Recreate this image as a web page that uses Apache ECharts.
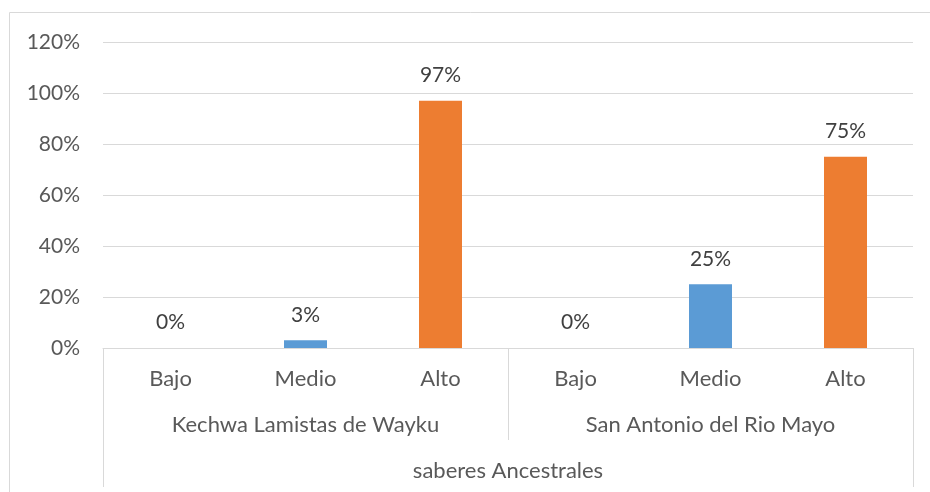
<!DOCTYPE html>
<html>
<head>
<meta charset="utf-8">
<script src="https://cdn.jsdelivr.net/npm/echarts@6/dist/echarts.min.js"></script>
<style>html,body{margin:0;padding:0;background:#fff}#c{width:930px;height:492px}</style>
</head>
<body>
<div id="c"></div>
<script>
const levels = ["Bajo", "Medio", "Alto", "Bajo", "Medio", "Alto"];
const groups = ["Kechwa Lamistas de Wayku", "San Antonio del Rio Mayo"];
const axisTitle = ["saberes Ancestrales"];
const values = [0, 3, 97, 0, 25, 75];
const yTicks = [0, 20, 40, 60, 80, 100, 120];

const levelColors = {Bajo: "#5B9BD5", Medio: "#5B9BD5", Alto: "#ED7D31"};
const FONT = "Lato, 'Open Sans', sans-serif";
const grey = "#d9d9d9";
const txt = "#595959";

const chart = echarts.init(document.getElementById('c'));
chart.setOption({
  animation: false,
  grid: {left: 103, right: 17, top: 42, bottom: 144},
  graphic: [{
    type: 'rect', shape: {x: 9.5, y: 12.5, width: 940, height: 500},
    style: {fill: 'none', stroke: grey, lineWidth: 1}, silent: true
  }],
  xAxis: [
    {
      type: 'category', data: levels, position: 'bottom',
      axisLine: {show: true, lineStyle: {color: grey}},
      axisTick: {show: false},
      axisLabel: {color: txt, fontSize: 22, fontFamily: FONT, margin: 20, interval: 0}
    },
    {
      type: 'category', data: groups, position: 'bottom',
      axisLine: {show: false},
      axisTick: {show: true, length: 92, lineStyle: {color: grey}},
      axisLabel: {color: txt, fontSize: 22, fontFamily: FONT, margin: 66, interval: 0}
    },
    {
      type: 'category', data: axisTitle, position: 'bottom',
      axisLine: {show: false},
      axisTick: {show: true, length: 139, lineStyle: {color: grey}},
      axisLabel: {color: txt, fontSize: 22, fontFamily: FONT, margin: 112, interval: 0}
    }
  ],
  yAxis: {
    type: 'value', min: yTicks[0], max: yTicks[yTicks.length - 1], interval: yTicks[1] - yTicks[0],
    axisLine: {show: false}, axisTick: {show: false},
    splitLine: {lineStyle: {color: grey}},
    axisLabel: {color: txt, fontSize: 21, fontFamily: FONT, margin: 23, formatter: v => v + '%'}
  },
  series: [{
    type: 'bar', xAxisIndex: 0, barWidth: 43,
    data: values.map((v, i) => ({value: v, itemStyle: {color: levelColors[levels[i]]}})),
    label: {show: true, position: 'top', distance: 15, color: '#404040', fontSize: 21, fontFamily: FONT, formatter: p => p.value + '%'}
  }]
});
</script>
</body>
</html>
